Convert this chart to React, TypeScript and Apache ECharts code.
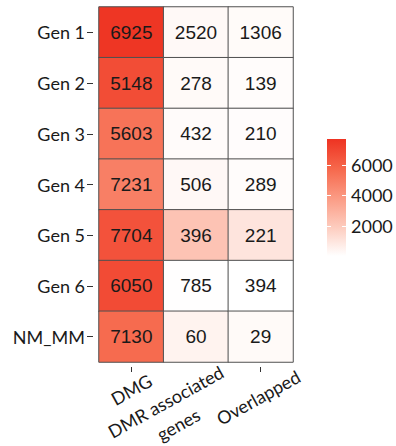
import React, { useEffect, useRef } from "react";
import * as echarts from "echarts";

// ---- data ----
const rowLabels = ["Gen 1", "Gen 2", "Gen 3", "Gen 4", "Gen 5", "Gen 6", "NM_MM"];
const colLabels = ["DMG", "DMR associated\ngenes", "Overlapped"];
// displayed counts per column
const dmgCounts = [6925, 5148, 5603, 7231, 7704, 6050, 7130];
const dmrCounts = [2520, 278, 432, 506, 396, 785, 60];
const overlapCounts = [1306, 139, 210, 289, 221, 394, 29];
const dmgFill = [7600, 6750, 5350, 4900, 6550, 6800, 5650];
const dmrFill = [260, 220, 180, 280, 2250, 60, 490];
const overlapFill = [190, 150, 130, 150, 1030, 29, 220];
const legendMin = 29;
const legendMax = 7704;
const legendTicks = [2000, 4000, 6000];

// ---- style ----
const ramp = ["#ffffff", "#fdcbbd", "#fb9a83", "#f6674b", "#ee3322"];
const axisFont = "Lato";
const textColor = "#1a1a1a";
// label centre offsets (px) from each x tick, relative to the plot bottom
const xLabelOffsets = [
  [0, 27.5],
  [-24, 51],
  [-2.5, 35.5],
];

export default function App() {
  const ref = useRef<HTMLDivElement>(null);

  useEffect(() => {
    if (!ref.current) return;
    const chart = echarts.init(ref.current, undefined, { renderer: "svg" });

    const counts = [dmgCounts, dmrCounts, overlapCounts];
    const fills = [dmgFill, dmrFill, overlapFill];
    const heatData: any[] = [];
    counts.forEach((col, ci) => {
      col.forEach((v, ri) => {
        heatData.push([ci, ri, fills[ci][ri], v]);
      });
    });

    const gridTop = 7;
    const gridHeight = 355;

    const option: any = {
      animation: false,
      grid: [
        { left: 99, top: gridTop, width: 194, height: gridHeight, outerBoundsMode: "none", containLabel: false },
        { left: 327, top: 139, width: 19, height: 117, outerBoundsMode: "none", containLabel: false },
      ],
      xAxis: [
        {
          type: "category",
          gridIndex: 0,
          data: colLabels,
          offset: 5,
          axisLine: { show: false },
          axisTick: { show: true, alignWithLabel: true, length: 5, lineStyle: { color: "#333" } },
          axisLabel: { show: false },
          splitLine: { show: false },
        },
        {
          type: "category",
          gridIndex: 1,
          data: [""],
          show: false,
        },
      ],
      yAxis: [
        {
          type: "category",
          gridIndex: 0,
          data: rowLabels,
          inverse: true,
          offset: 6,
          axisLine: { show: false },
          axisTick: { show: true, alignWithLabel: true, length: 6, lineStyle: { color: "#333" } },
          axisLabel: {
            margin: 8,
            fontFamily: axisFont,
            fontSize: 18,
            color: textColor,
          },
          splitLine: { show: false },
        },
        {
          type: "value",
          gridIndex: 1,
          position: "right",
          min: legendMin,
          max: legendMax,
          z: 10,
          axisLine: { show: false },
          splitLine: { show: false },
          axisTick: {
            show: true,
            inside: true,
            length: 4,
            customValues: legendTicks,
            lineStyle: { color: "#ffffff", width: 1 },
          },
          axisLabel: {
            customValues: legendTicks,
            formatter: (v: number) => String(v),
            margin: 5,
            fontFamily: axisFont,
            fontSize: 18,
            color: textColor,
          },
        },
        {
          type: "value",
          gridIndex: 1,
          position: "left",
          min: legendMin,
          max: legendMax,
          z: 10,
          axisLine: { show: false },
          splitLine: { show: false },
          axisTick: {
            show: true,
            inside: true,
            length: 4,
            customValues: legendTicks,
            lineStyle: { color: "#ffffff", width: 1 },
          },
          axisLabel: { show: false },
        },
      ],
      visualMap: {
        type: "continuous",
        show: false,
        min: legendMin,
        max: legendMax,
        dimension: 2,
        seriesIndex: 0,
        inRange: { color: ramp },
      },
      series: [
        {
          type: "heatmap",
          xAxisIndex: 0,
          yAxisIndex: 0,
          data: heatData,
          itemStyle: { borderColor: "#505050", borderWidth: 1 },
          label: {
            show: true,
            formatter: (p: any) => String(p.value[3]),
            fontFamily: "Liberation Sans",
            fontSize: 19,
            color: textColor,
          },
          emphasis: { disabled: true },
        },
        {
          type: "bar",
          xAxisIndex: 1,
          yAxisIndex: 1,
          data: [legendMax],
          barWidth: "100%",
          silent: true,
          itemStyle: {
            color: {
              type: "linear",
              x: 0,
              y: 1,
              x2: 0,
              y2: 0,
              colorStops: ramp.map((c, i) => ({ offset: i / (ramp.length - 1), color: c })),
            },
          },
        },
      ],
    };

    chart.setOption(option);

    // rotated x-axis labels, placed at the category positions given by the axis
    const plotBottom = gridTop + gridHeight;
    const labels = colLabels.map((c, i) => {
      const px = chart.convertToPixel({ xAxisIndex: 0 }, i) as number;
      const [dx, dy] = xLabelOffsets[i];
      return {
        type: "text",
        x: px + dx,
        y: plotBottom + dy,
        rotation: (29 * Math.PI) / 180,
        style: {
          text: c,
          align: "center",
          verticalAlign: "middle",
          lineHeight: 26,
          fontFamily: axisFont,
          fontSize: 18,
          fill: textColor,
        },
      };
    });
    chart.setOption({ graphic: labels });

    return () => chart.dispose();
  }, []);

  return (
    <div
      ref={ref}
      style={{ position: "fixed", left: 0, top: 0, width: 396, height: 446, background: "#ffffff" }}
    />
  );
}
